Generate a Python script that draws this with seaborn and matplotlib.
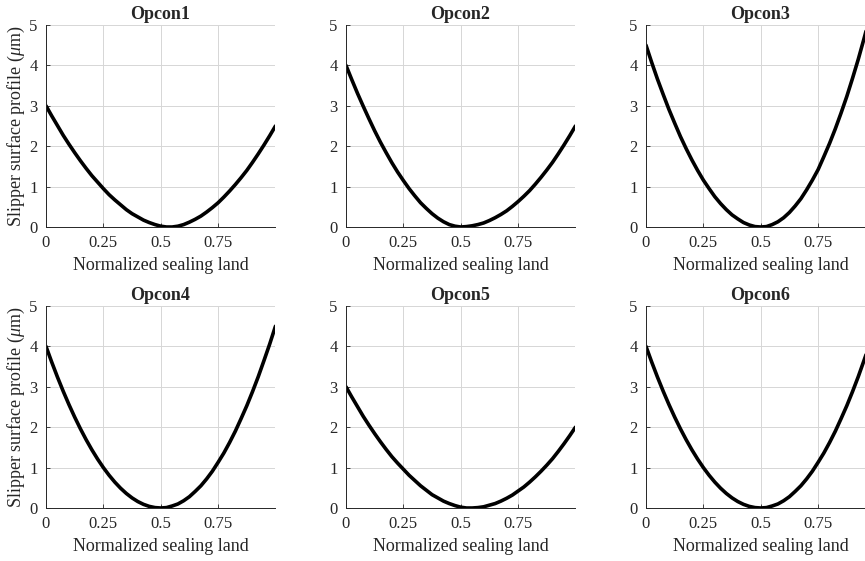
import numpy as np
import pandas as pd
import seaborn as sns
import matplotlib
matplotlib.use("Agg")
import matplotlib.pyplot as plt

# normalized sealing land positions (read every 0.025)
x_land = [0.000, 0.025, 0.050, 0.075, 0.100, 0.125, 0.150, 0.175, 0.200, 0.225,
          0.250, 0.275, 0.300, 0.325, 0.350, 0.375, 0.400, 0.425, 0.450, 0.475,
          0.500, 0.525, 0.550, 0.575, 0.600, 0.625, 0.650, 0.675, 0.700, 0.725,
          0.750, 0.775, 0.800, 0.825, 0.850, 0.875, 0.900, 0.925, 0.950, 0.975,
          1.000]

# slipper surface profile (um)
opcon1 = [3.00, 2.75, 2.51, 2.27, 2.05, 1.84, 1.64, 1.45, 1.27, 1.11,
          0.95, 0.80, 0.67, 0.55, 0.43, 0.33, 0.25, 0.17, 0.11, 0.06,
          0.02, 0.00, 0.00, 0.02, 0.06, 0.12, 0.19, 0.27, 0.37, 0.48,
          0.60, 0.74, 0.89, 1.05, 1.22, 1.40, 1.60, 1.81, 2.03, 2.26,
          2.50]
opcon2 = [4.00, 3.65, 3.31, 2.99, 2.68, 2.38, 2.10, 1.84, 1.59, 1.36,
          1.15, 0.95, 0.77, 0.60, 0.46, 0.33, 0.22, 0.13, 0.06, 0.02,
          0.00, 0.01, 0.03, 0.06, 0.10, 0.16, 0.23, 0.31, 0.40, 0.51,
          0.63, 0.76, 0.90, 1.06, 1.23, 1.41, 1.60, 1.81, 2.03, 2.26,
          2.50]
opcon3 = [4.50, 4.07, 3.66, 3.28, 2.91, 2.57, 2.24, 1.94, 1.66, 1.40,
          1.16, 0.95, 0.75, 0.58, 0.43, 0.30, 0.20, 0.11, 0.05, 0.01,
          0.00, 0.01, 0.06, 0.13, 0.23, 0.36, 0.52, 0.70, 0.92, 1.16,
          1.42, 1.74, 2.07, 2.43, 2.82, 3.23, 3.68, 4.15, 4.66, 5.19,
          5.75]
opcon4 = [4.00, 3.61, 3.24, 2.89, 2.56, 2.25, 1.96, 1.69, 1.44, 1.21,
          1.00, 0.81, 0.64, 0.49, 0.36, 0.25, 0.16, 0.09, 0.04, 0.01,
          0.00, 0.01, 0.05, 0.10, 0.18, 0.28, 0.41, 0.55, 0.72, 0.91,
          1.13, 1.36, 1.62, 1.90, 2.21, 2.53, 2.88, 3.25, 3.65, 4.06,
          4.50]
opcon5 = [3.00, 2.75, 2.51, 2.27, 2.05, 1.84, 1.64, 1.45, 1.27, 1.11,
          0.96, 0.81, 0.68, 0.55, 0.44, 0.33, 0.25, 0.17, 0.11, 0.06,
          0.02, 0.00, 0.00, 0.01, 0.03, 0.07, 0.11, 0.17, 0.24, 0.32,
          0.42, 0.52, 0.64, 0.77, 0.91, 1.06, 1.22, 1.40, 1.59, 1.79,
          2.00]
opcon6 = [4.00, 3.61, 3.24, 2.89, 2.56, 2.25, 1.96, 1.69, 1.44, 1.21,
          1.00, 0.81, 0.64, 0.49, 0.36, 0.25, 0.16, 0.09, 0.04, 0.01,
          0.00, 0.01, 0.05, 0.10, 0.18, 0.28, 0.41, 0.55, 0.72, 0.91,
          1.13, 1.36, 1.62, 1.90, 2.21, 2.53, 2.88, 3.25, 3.65, 4.06,
          4.50]

titles = ["Opcon1", "Opcon2", "Opcon3", "Opcon4", "Opcon5", "Opcon6"]
profiles = [opcon1, opcon2, opcon3, opcon4, opcon5, opcon6]
xticks = [0, 0.25, 0.5, 0.75]
xtick_labels = ["0", "0.25", "0.5", "0.75"]
yticks = [0, 1, 2, 3, 4, 5]

sns.set_style("ticks")
plt.rcParams['font.family'] = ['Liberation Serif', 'DejaVu Serif']
plt.rcParams['mathtext.fontset'] = 'custom'
plt.rcParams['mathtext.rm'] = 'Liberation Serif'
plt.rcParams['mathtext.it'] = 'Liberation Serif:italic'

W, H = 865, 561
fig = plt.figure(figsize=(W / 100, H / 100), dpi=100)

# axes boxes in pixels: left, top, width, height
col_left = [46, 346, 646]
row_top = [25, 306]
ax_w, ax_h = 229, 202

for i, (title, prof) in enumerate(zip(titles, profiles)):
    r, c = divmod(i, 3)
    left = col_left[c] / W
    bottom = 1 - (row_top[r] + ax_h) / H
    ax = fig.add_axes([left, bottom, ax_w / W, ax_h / H])

    df = pd.DataFrame({"x": x_land, "y": prof})
    sns.lineplot(data=df, x="x", y="y", ax=ax, color="black", linewidth=2.6)

    ax.set_xlim(0, 0.998)
    ax.set_ylim(0, 5)
    ax.set_xticks(xticks)
    ax.set_xticklabels(xtick_labels)
    ax.set_yticks(yticks)
    ax.grid(True, color="#d6d6d6", linewidth=0.7)
    ax.set_axisbelow(True)
    for s in ["top", "right"]:
        ax.spines[s].set_visible(False)
    for s in ["left", "bottom"]:
        ax.spines[s].set_color("#262626")
        ax.spines[s].set_linewidth(0.7)
    ax.tick_params(direction="in", length=3, width=0.6, colors="#262626",
                   labelsize=12, pad=6)

    ax.set_title(title, fontsize=13, fontweight="bold", pad=4)
    ax.set_xlabel("Normalized sealing land", fontsize=13, labelpad=4,
                  color="#262626")
    if c == 0:
        ax.set_ylabel(r"Slipper surface profile ($\mu$m)", fontsize=13,
                      labelpad=2, color="#262626")
    else:
        ax.set_ylabel("")

fig.savefig("out.png", dpi=100)
